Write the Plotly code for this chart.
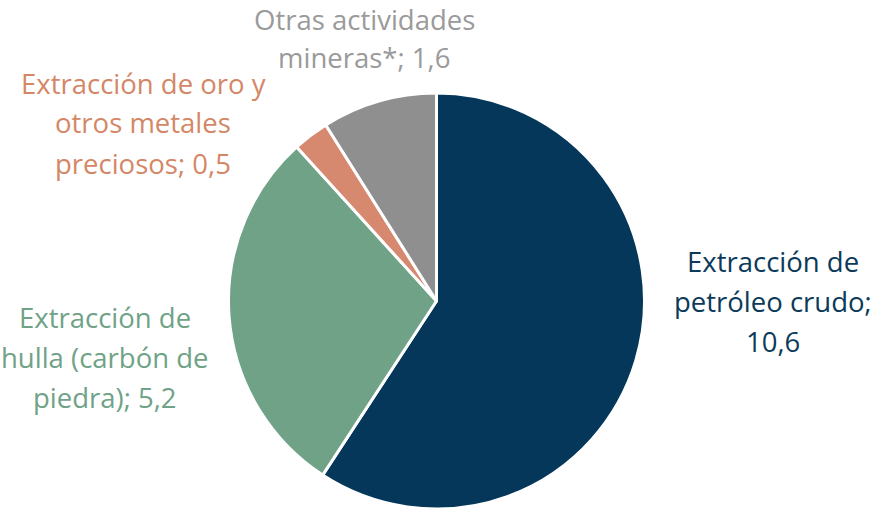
import plotly.graph_objects as go

categories = [
    "Extracción de petróleo crudo",
    "Extracción de hulla (carbón de piedra)",
    "Extracción de oro y otros metales preciosos",
    "Otras actividades mineras*",
]
values = [10.6, 5.2, 0.5, 1.6]
display_lines = [
    ["Extracción de", "petróleo crudo;", "{v}"],
    ["Extracción de", "hulla (carbón de", "piedra); {v}"],
    ["Extracción de oro y", "otros metales", "preciosos; {v}"],
    ["Otras actividades", "mineras*; {v}"],
]
slice_colors = ["#04375A", "#70A287", "#D6896F", "#8F8F8F"]
text_colors = ["#0B3A5A", "#6FA287", "#D48767", "#9A9A9A"]
# first-line centre positions (screen px) and line spacing
label_pos = [(773, 261), (105, 317), (143, 83), (364, 20)]
LINE = [40, 40, 40, 38]

W, H = 879, 516

def px2paper(sx, sy):
    return sx / W, 1 - sy / H

x0, y1 = px2paper(228, 93)
x1, y0 = px2paper(645, 509)

fig = go.Figure(go.Pie(
    labels=categories,
    values=values,
    sort=False,
    direction="clockwise",
    rotation=0,
    marker=dict(colors=slice_colors, line=dict(color="white", width=3)),
    textinfo="none",
    hoverinfo="label+value",
    showlegend=False,
    domain=dict(x=[x0, x1], y=[y0, y1]),
))

for cat, v, lines, col, (px, py), lh in zip(categories, values, display_lines, text_colors, label_pos, LINE):
    vs = f"{v:.1f}".replace(".", ",")
    for i, l in enumerate(lines):
        ax, ay = px2paper(px, py + i * lh)
        fig.add_annotation(
            x=ax, y=ay, xref="paper", yref="paper",
            text=l.format(v=vs), showarrow=False, xanchor="center", yanchor="middle",
            align="center", font=dict(size=27.5, color=col, family="Open Sans"),
        )

fig.update_layout(
    width=W, height=H,
    margin=dict(l=0, r=0, t=0, b=0),
    paper_bgcolor="white", plot_bgcolor="white",
)
fig.write_html(
    "out.html",
    config={"displayModeBar": False},
    post_script="document.body.style.margin='0';document.body.style.overflow='hidden';",
)
